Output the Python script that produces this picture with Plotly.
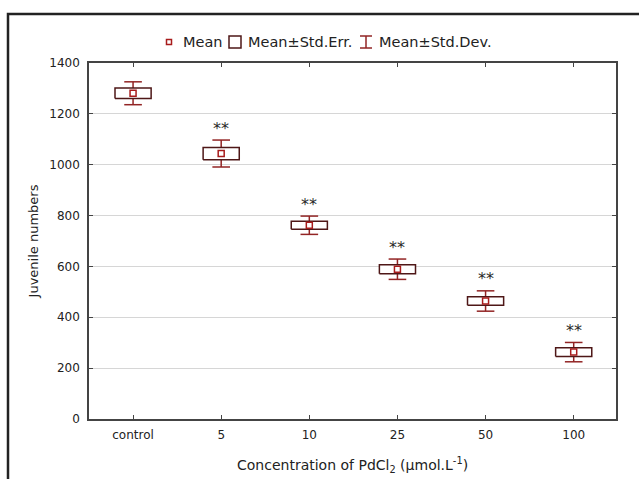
import plotly.graph_objects as go

categories = ["control", "5", "10", "25", "50", "100"]
means = [1281, 1044, 762, 589, 464, 263]
std_err = [21, 24, 16, 18, 17, 17]
std_dev = [45, 53, 36, 40, 40, 38]
y_ticks = [0, 200, 400, 600, 800, 1000, 1200, 1400]
sig_labels = ["", "**", "**", "**", "**", "**"]

BOX_C = "#4e1717"
WH_C = "#922424"
MEAN_C = "#a81c1c"
FONT = "DejaVu Sans, Liberation Sans, Arial, sans-serif"

W, H = 639, 479
L, R, T, B = 89, 23, 63, 60
PW, PH = W - L - R, H - T - B


def px(xp):
    return (xp - L) / PW


def py(yp):
    return (H - B - yp) / PH


xs = list(range(len(categories)))
bw = 0.205
cap = 0.1

# boxes (mean +/- std err)
bx, by = [], []
for i, m, se in zip(xs, means, std_err):
    bx += [i - bw, i + bw, i + bw, i - bw, i - bw, None]
    by += [m - se, m - se, m + se, m + se, m - se, None]

# whiskers (mean +/- std dev), drawn outside the box
wx, wy = [], []
for i, m, se, sd in zip(xs, means, std_err, std_dev):
    wx += [i, i, None, i - cap, i + cap, None, i, i, None, i - cap, i + cap, None]
    wy += [m + se, m + sd, None, m + sd, m + sd, None, m - se, m - sd, None, m - sd, m - sd, None]

fig = go.Figure()
fig.add_trace(go.Scatter(x=wx, y=wy, mode="lines", line=dict(color=WH_C, width=1.5),
                         showlegend=False, hoverinfo="skip"))
fig.add_trace(go.Scatter(x=bx, y=by, mode="lines", fill="toself", fillcolor="white",
                         line=dict(color=BOX_C, width=1.5), showlegend=False, hoverinfo="skip"))
fig.add_trace(go.Scatter(x=xs, y=means, mode="markers",
                         marker=dict(symbol="square-open", size=6, color=MEAN_C,
                                     line=dict(width=1.5, color=MEAN_C)),
                         showlegend=False))

annotations = []
for i, m, sd, lab in zip(xs, means, std_dev, sig_labels):
    if lab:
        annotations.append(dict(x=i, y=m + sd, xref="x", yref="y", text=lab, showarrow=False,
                                yshift=12, font=dict(size=16, color="#2a2a2a", family=FONT)))

# x axis title
annotations.append(dict(x=0.5, y=py(465), xref="paper", yref="paper",
                        text="Concentration of PdCl<sub>2</sub> (µmol.L<sup>-1</sup>)",
                        showarrow=False, xanchor="center", yanchor="middle",
                        font=dict(size=14, color="#222222", family=FONT)))

# custom legend
leg_y = 42
legend_items = [(181, "Mean"), (246, "Mean±Std.Err."), (377, "Mean±Std.Dev.")]
for xp, txt in legend_items:
    annotations.append(dict(x=px(xp), y=py(leg_y), xref="paper", yref="paper", text=txt,
                            showarrow=False, xanchor="left", yanchor="middle",
                            font=dict(size=14.5, color="#222222", family=FONT)))

shapes = [
    # outer frame
    dict(type="rect", xref="paper", yref="paper", x0=px(8), x1=px(700), y0=py(540), y1=py(14),
         line=dict(color="#222222", width=2.5), layer="below"),
    # legend: mean marker
    dict(type="rect", xref="paper", yref="paper", x0=px(166.5), x1=px(171.5), y0=py(39.5), y1=py(44.5),
         line=dict(color=MEAN_C, width=1.5)),
    # legend: box
    dict(type="rect", xref="paper", yref="paper", x0=px(229), x1=px(241), y0=py(48), y1=py(36),
         line=dict(color=BOX_C, width=1.5)),
    # legend: whisker
    dict(type="line", xref="paper", yref="paper", x0=px(366), x1=px(366), y0=py(48), y1=py(36),
         line=dict(color=WH_C, width=1.5)),
    dict(type="line", xref="paper", yref="paper", x0=px(360), x1=px(372), y0=py(36), y1=py(36),
         line=dict(color=WH_C, width=1.5)),
    dict(type="line", xref="paper", yref="paper", x0=px(360), x1=px(372), y0=py(48), y1=py(48),
         line=dict(color=WH_C, width=1.5)),
]

fig.update_layout(
    width=W, height=H,
    margin=dict(l=L, r=R, t=T, b=B, pad=0),
    paper_bgcolor="white", plot_bgcolor="white",
    font=dict(family=FONT, size=12, color="#222222"),
    showlegend=False,
    annotations=annotations,
    shapes=shapes,
)
fig.update_xaxes(range=[-0.5, 5.48], tickmode="array", tickvals=xs, ticktext=categories,
                 showgrid=False, zeroline=False, showline=True, linecolor="#444444", linewidth=1.5,
                 mirror="ticks", ticks="inside", ticklen=4, tickcolor="#444444",
                 tickfont=dict(size=12, color="#222222"), ticklabelstandoff=4)
fig.update_yaxes(range=[0, 1400], tickmode="array", tickvals=y_ticks,
                 showgrid=True, gridcolor="#d6d6d6", gridwidth=1, zeroline=False,
                 showline=True, linecolor="#444444", linewidth=1.5, mirror="ticks",
                 ticks="inside", ticklen=4, tickcolor="#444444",
                 tickfont=dict(size=12, color="#222222"), ticklabelstandoff=5,
                 title=dict(text="Juvenile numbers", font=dict(size=13, color="#222222"), standoff=8))

fig.write_html("out.html")
